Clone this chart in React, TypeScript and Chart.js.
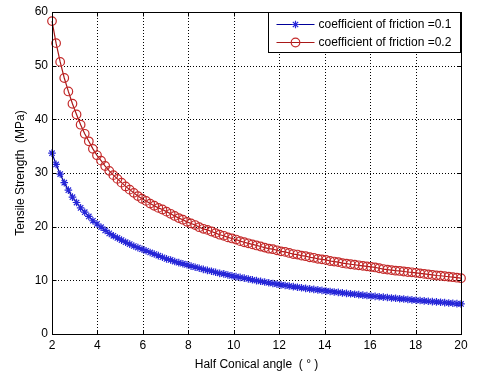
import React, { useEffect, useRef } from 'react';
import { Chart, registerables } from 'chart.js';

Chart.register(...registerables);

// Half conical angle (degrees)
const angles = [
  2.00, 2.18, 2.36, 2.54, 2.72, 2.90, 3.08, 3.26, 3.44, 3.62,
  3.80, 3.98, 4.16, 4.34, 4.52, 4.70, 4.88, 5.06, 5.24, 5.42,
  5.60, 5.78, 5.96, 6.14, 6.32, 6.50, 6.68, 6.86, 7.04, 7.22,
  7.40, 7.58, 7.76, 7.94, 8.12, 8.30, 8.48, 8.66, 8.84, 9.02,
  9.20, 9.38, 9.56, 9.74, 9.92, 10.10, 10.28, 10.46, 10.64, 10.82,
  11.00, 11.18, 11.36, 11.54, 11.72, 11.90, 12.08, 12.26, 12.44, 12.62,
  12.80, 12.98, 13.16, 13.34, 13.52, 13.70, 13.88, 14.06, 14.24, 14.42,
  14.60, 14.78, 14.96, 15.14, 15.32, 15.50, 15.68, 15.86, 16.04, 16.22,
  16.40, 16.58, 16.76, 16.94, 17.12, 17.30, 17.48, 17.66, 17.84, 18.02,
  18.20, 18.38, 18.56, 18.74, 18.92, 19.10, 19.28, 19.46, 19.64, 19.82,
  20.00,
];

// Tensile strength (MPa), coefficient of friction = 0.1
const tensileMu01 = [
  33.7, 31.6, 29.8, 28.2, 26.8, 25.5, 24.5, 23.5, 22.7, 21.9,
  21.1, 20.5, 19.9, 19.3, 18.75, 18.3, 17.9, 17.5, 17.1, 16.75,
  16.4, 16.1, 15.8, 15.5, 15.2, 14.9, 14.6, 14.3, 14.0, 13.8,
  13.5, 13.3, 13.1, 12.9, 12.65, 12.45, 12.25, 12.05, 11.85, 11.7,
  11.5, 11.3, 11.2, 11.0, 10.85, 10.7, 10.55, 10.41, 10.26, 10.1,
  9.95, 9.82, 9.68, 9.55, 9.41, 9.28, 9.15, 9.04, 8.94, 8.83,
  8.72, 8.61, 8.51, 8.41, 8.31, 8.22, 8.12, 8.02, 7.93, 7.84,
  7.75, 7.66, 7.57, 7.49, 7.41, 7.33, 7.24, 7.16, 7.08, 7.01,
  6.94, 6.87, 6.8, 6.72, 6.65, 6.58, 6.51, 6.44, 6.36, 6.29,
  6.23, 6.17, 6.1, 6.04, 5.98, 5.92, 5.85, 5.79, 5.73, 5.66,
  5.6,
];

// Tensile strength (MPa), coefficient of friction = 0.2
const tensileMu02 = [
  58.3, 54.2, 50.7, 47.7, 45.2, 42.9, 40.9, 39.0, 37.3, 35.9,
  34.5, 33.3, 32.3, 31.3, 30.4, 29.6, 28.9, 28.2, 27.5, 26.9,
  26.3, 25.7, 25.2, 24.8, 24.3, 23.9, 23.5, 23.2, 22.8, 22.4,
  22.0, 21.6, 21.3, 20.9, 20.6, 20.3, 19.9, 19.6, 19.4, 19.1,
  18.8, 18.5, 18.3, 18.0, 17.8, 17.6, 17.3, 17.1, 16.9, 16.7,
  16.5, 16.3, 16.1, 15.9, 15.8, 15.6, 15.4, 15.3, 15.1, 14.9,
  14.8, 14.6, 14.5, 14.3, 14.2, 14.0, 13.9, 13.8, 13.6, 13.5,
  13.4, 13.2, 13.1, 13.0, 12.9, 12.8, 12.7, 12.6, 12.5, 12.4,
  12.25, 12.1, 12.0, 11.9, 11.8, 11.75, 11.65, 11.55, 11.5, 11.4,
  11.3, 11.2, 11.1, 11.0, 10.9, 10.85, 10.76, 10.67, 10.58, 10.49,
  10.4,
];

const seriesLabels = ['coefficient of friction =0.1', 'coefficient of friction =0.2'];
const xTicks = [2, 4, 6, 8, 10, 12, 14, 16, 18, 20];
const yTicks = [0, 10, 20, 30, 40, 50, 60];
const xTitle = 'Half Conical angle  ( \u00B0 )';
const yTitle = 'Tensile Strength  (MPa)';

const FONT = '"Liberation Sans", Arial, Helvetica, sans-serif';
const BLUE_LINE = '#00009a';
const BLUE_MARK = '#2626d8';
const RED_LINE = '#a81818';
const RED_MARK = '#c42a2a';

function drawMarker(ctx: CanvasRenderingContext2D, style: string, x: number, y: number, r: number, color: string, lw: number) {
  ctx.save();
  ctx.strokeStyle = color;
  ctx.lineWidth = lw;
  ctx.setLineDash([]);
  ctx.beginPath();
  if (style === 'circle') {
    ctx.arc(x, y, r, 0, Math.PI * 2);
  } else {
    ctx.moveTo(x - r, y); ctx.lineTo(x + r, y);
    ctx.moveTo(x, y - r); ctx.lineTo(x, y + r);
    const d = r * 0.7071;
    ctx.moveTo(x - d, y - d); ctx.lineTo(x + d, y + d);
    ctx.moveTo(x - d, y + d); ctx.lineTo(x + d, y - d);
  }
  ctx.stroke();
  ctx.restore();
}

const framePlugin = {
  id: 'matlabFrame',
  beforeDatasetsDraw(chart: any) {
    const { ctx, chartArea: a, scales } = chart;
    ctx.save();
    ctx.strokeStyle = '#000';
    ctx.lineWidth = 1;
    ctx.setLineDash([1, 2]);
    for (const t of scales.x.ticks) {
      const x = Math.round(scales.x.getPixelForValue(t.value)) + 0.5;
      if (x <= a.left + 1.5 || x >= a.right - 1.5) continue;
      ctx.beginPath();
      ctx.moveTo(x, a.top);
      ctx.lineTo(x, a.bottom);
      ctx.stroke();
    }
    for (const t of scales.y.ticks) {
      const y = Math.round(scales.y.getPixelForValue(t.value)) + 0.5;
      if (y <= a.top + 1.5 || y >= a.bottom - 1.5) continue;
      ctx.beginPath();
      ctx.moveTo(a.left, y);
      ctx.lineTo(a.right, y);
      ctx.stroke();
    }
    ctx.restore();
  },
  afterDatasetsDraw(chart: any) {
    const { ctx, chartArea: a, scales } = chart;
    const L = Math.round(a.left) + 0.5;
    const R = Math.round(a.right) + 0.5;
    const T = Math.round(a.top) + 0.5;
    const B = Math.round(a.bottom) + 0.5;
    ctx.save();
    ctx.setLineDash([]);
    ctx.strokeStyle = '#000';
    ctx.lineWidth = 1;
    ctx.strokeRect(L, T, R - L, B - T);
    // inward tick marks
    const tl = 4;
    ctx.beginPath();
    for (const t of scales.x.ticks) {
      const x = Math.round(scales.x.getPixelForValue(t.value)) + 0.5;
      ctx.moveTo(x, B); ctx.lineTo(x, B - tl);
      ctx.moveTo(x, T); ctx.lineTo(x, T + tl);
    }
    for (const t of scales.y.ticks) {
      const y = Math.round(scales.y.getPixelForValue(t.value)) + 0.5;
      ctx.moveTo(L, y); ctx.lineTo(L + tl, y);
      ctx.moveTo(R, y); ctx.lineTo(R - tl, y);
    }
    ctx.stroke();

    // legend box (top right, inside axes)
    const w = 192;
    const h = 40;
    const lx = Math.round(a.right) - 193 + 0.5;
    const ly = Math.round(a.top) + 0.5;
    ctx.fillStyle = '#fff';
    ctx.fillRect(lx, ly, w, h);
    ctx.strokeRect(lx, ly, w, h);
    const rows = [ly + 11.5, ly + 29];
    chart.data.datasets.forEach((ds: any, i: number) => {
      const y = Math.round(rows[i]) + 0.5;
      ctx.strokeStyle = ds.borderColor;
      ctx.lineWidth = 1;
      ctx.beginPath();
      ctx.moveTo(lx + 8, y);
      ctx.lineTo(lx + 46, y);
      ctx.stroke();
      drawMarker(ctx, ds.pointStyle, lx + 27, y, ds.pointRadius, ds.pointBorderColor, ds.pointBorderWidth);
      ctx.fillStyle = '#000';
      ctx.font = '12px ' + FONT;
      ctx.textBaseline = 'middle';
      ctx.textAlign = 'left';
      ctx.fillText(ds.label, lx + 50, y);
    });
    ctx.restore();
  },
};

export default function App() {
  const ref = useRef<HTMLCanvasElement | null>(null);

  useEffect(() => {
    if (!ref.current) return;
    const chart = new Chart(ref.current, {
      type: 'line',
      data: {
        datasets: [
          {
            label: seriesLabels[0],
            data: angles.map((x, i) => ({ x, y: tensileMu01[i] })),
            borderColor: BLUE_LINE,
            borderWidth: 1.2,
            pointStyle: 'star',
            pointRadius: 3.8,
            pointBorderColor: BLUE_MARK,
            pointBackgroundColor: BLUE_MARK,
            pointBorderWidth: 1.2,
            fill: false,
            tension: 0,
            clip: false,
          } as any,
          {
            label: seriesLabels[1],
            data: angles.map((x, i) => ({ x, y: tensileMu02[i] })),
            borderColor: RED_LINE,
            borderWidth: 1.2,
            pointStyle: 'circle',
            pointRadius: 4.3,
            pointBorderColor: RED_MARK,
            pointBackgroundColor: 'rgba(0,0,0,0)',
            pointBorderWidth: 1.2,
            fill: false,
            tension: 0,
            clip: false,
          } as any,
        ],
      },
      options: {
        responsive: false,
        animation: false,
        devicePixelRatio: 1,
        layout: { padding: { top: 12, right: 19, bottom: 0, left: 0 } },
        plugins: {
          legend: { display: false },
          tooltip: { enabled: false },
        },
        scales: {
          x: {
            type: 'linear',
            min: 2,
            max: 20,
            afterBuildTicks: (s: any) => { s.ticks = xTicks.map((v) => ({ value: v })); },
            afterFit: (s: any) => { s.height = 41; },
            grid: { display: false, drawTicks: false },
            border: { display: false },
            ticks: {
              color: '#000',
              padding: 4,
              maxRotation: 0,
              autoSkip: false,
              font: { family: FONT, size: 12 },
              callback: (v: any) => String(v),
            },
            title: {
              display: true,
              text: xTitle,
              color: '#000',
              font: { family: FONT, size: 12 },
              padding: { top: 0, bottom: 3 },
            },
          },
          y: {
            type: 'linear',
            min: 0,
            max: 60,
            afterBuildTicks: (s: any) => { s.ticks = yTicks.map((v) => ({ value: v })); },
            afterFit: (s: any) => { s.width = 52; },
            grid: { display: false, drawTicks: false },
            border: { display: false },
            ticks: {
              color: '#000',
              padding: 4,
              autoSkip: false,
              font: { family: FONT, size: 12 },
              callback: (v: any) => String(v),
            },
            title: {
              display: true,
              text: yTitle,
              color: '#000',
              font: { family: FONT, size: 12 },
              padding: { top: 13, bottom: 0 },
            },
          },
        },
      },
      plugins: [framePlugin],
    });
    return () => chart.destroy();
  }, []);

  return (
    <div style={{ position: 'absolute', left: 0, top: 0, width: 480, height: 375, background: '#fff' }}>
      <canvas ref={ref} width={480} height={375} style={{ display: 'block' }} />
    </div>
  );
}
